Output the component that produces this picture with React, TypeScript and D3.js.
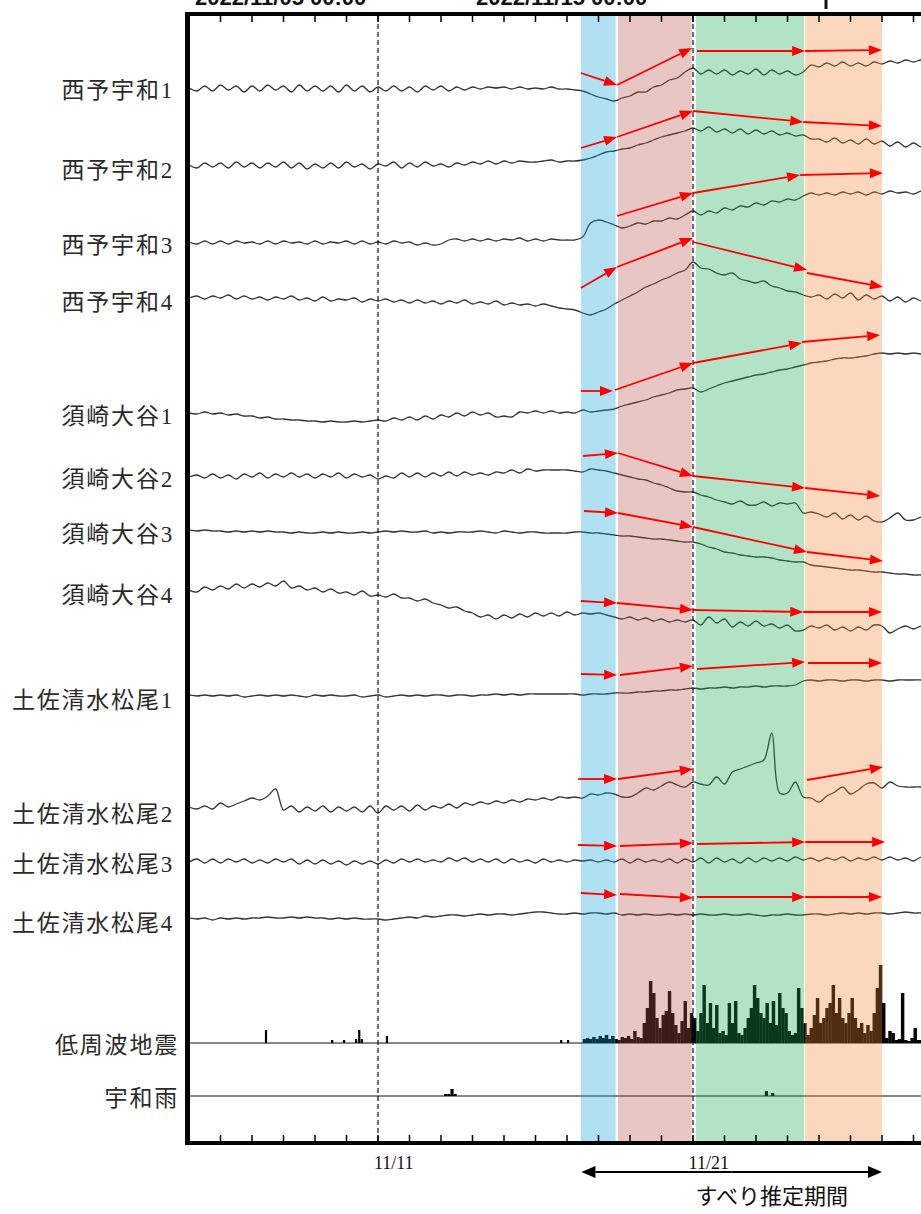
import React from 'react';
import * as d3 from 'd3';

// ---------- DATA ----------
const START = Date.UTC(2022, 10, 5); // 2022-11-05 00:00
const DAY_MS = 86400000;
const SAMPLE_STEP = 0.25; // days between samples of the tilt traces

const stationLabels = [
  '西予宇和1', '西予宇和2', '西予宇和3', '西予宇和4',
  '須崎大谷1', '須崎大谷2', '須崎大谷3', '須崎大谷4',
  '土佐清水松尾1', '土佐清水松尾2', '土佐清水松尾3', '土佐清水松尾4',
];

const nishiyowa1 = [0,-3,2,-3, 3,-2,2,-4, 2,-3,3,-2, 2,-4,3,-3, 2,-3,2,-4, 3,-3,2,-4, 1,-3,2,-3, 1,-4,2,-2, 2,-3,1,-2, 1,-1,1,0, 1,-1,1,-1, 0,-1,1,-1, -1,-2,-3,-6, -9,-11,-13,-10, -8,-4,-4,1, 3,8,10,16, 20,14,18,14, 18,13,17,14, 19,13,18,14, 17,13,16,23, 21,25,22,26, 22,25,22,26, 24,27,25,28, 26,28,26];
const nishiyowa2 = [3,0,5,1, 5,0,6,1, 5,0,5,1, 6,0,5,-1, 4,0,5,0, 6,1,4,-1, 4,2,6,0, 5,1,6,2, 4,1,5,3, 6,4,7,4, 7,5,7,6, 6,7,8,6, 7,7,8,10, 13,16,17,19, 20,23,25,28, 31,33,35,37, 40,37,41,36, 39,35,39,34, 38,34,37,33, 35,32,33,29, 29,26,30,25, 28,24,29,24, 27,22,26,21, 25,21,24];
const nishiyowa3 = [0,-2,1,-2, 1,-2,1,-1, 0,-2,1,-2, 1,-1,0,-2, 1,-2,0,-1, 1,-2,1,-2, 0,-2,1,-1, 0,-3,-1,-3, -2,2,3,1, 3,1,3,1, 3,2,4,1, 3,1,3,2, 2,2,5,19, 22,20,17,14, 16,19,18,21, 21,24,23,27, 31,27,31,29, 34,32,36,35, 39,37,41,40, 43,42,46,49, 47,49,47,50, 48,50,47,50, 48,51,49,50, 48,51,49];
const nishiyowa4 = [0,2,-1,2, 0,3,-1,2, -1,1,-2,1, -1,2,-2,0, -3,1,-3,-1, -2,0,-4,-1, -3,-1,-4,-2, -5,-2,-5,-3, -6,-3,-5,-2, -6,-4,-6,-3, -7,-5,-7,-6, -8,-6,-8,-10, -11,-12,-15,-17, -14,-11,-6,-2, 2,6,11,14, 18,21,25,28, 36,30,29,25, 23,25,19,17, 15,17,12,10, 7,6,3,1, 3,-1,4,0, 5,-2,3,-1, 2,-3,1,-4, 0,-3,-1];
const susakiOtani1 = [1,0,2,0, 1,-1,0,-2, -2,-4,-3,-5, -5,-6,-6,-7, -7,-8,-7,-8, -8,-7,-8,-7, -6,-7,-4,-6, -3,-6,-2,-5, -1,-3,1,-2, 2,-1,1,-3, -2,-3,2,1, 3,1,3,1, 2,1,4,2, 3,4,5,8, 10,12,14,17, 19,21,24,25, 26,22,25,28, 31,33,35,37, 39,40,42,44, 45,47,49,51, 52,53,55,56, 56,57,58,60, 61,60,61,60, 61,60,61];
const susakiOtani2 = [0,2,-1,3, -1,2,-2,3, 0,4,-1,3, 0,4,0,3, -1,3,0,4, -1,3,0,2, -2,1,-1,4, 0,4,0,4, 1,5,1,5, 2,4,2,5, 4,7,4,8, 6,7,7,7, 7,6,5,8, 7,6,4,2, 0,-2,-3,-6, -8,-11,-14,-15, -15,-18,-20,-23, -25,-27,-24,-28, -28,-25,-29,-26, -27,-26,-36,-35, -37,-40,-36,-42, -38,-43,-39,-44, -45,-41,-36,-43, -43,-40,-40];
const susakiOtani3 = [1,0,1,0, 0,-1,0,-1, 0,-1,0,-1, -1,-2,-1,-2, -2,-1,-2,-1, -2,-2,-1,-2, -1,0,-1,0, -1,-1,0,-2, -1,-2,-1,-1, -1,0,-1,-2, 0,-1,-2,-1, -1,-2,-2,-2, -2,-1,-1,-2, -2,-3,-4,-5, -5,-6,-7,-8, -8,-9,-10,-11, -11,-13,-16,-18, -21,-22,-24,-25, -26,-26,-27,-29, -30,-31,-31,-34, -35,-36,-37,-38, -39,-39,-40,-41, -41,-42,-43,-43, -44,-44,-45];
const susakiOtani4 = [3,1,6,3, 7,4,9,5, 9,6,10,7, 12,5,7,3, 5,1,4,0, 1,-2,2,-3, -2,-4,-1,-5, -5,-8,-6,-10, -12,-15,-14,-18, -20,-24,-22,-26, -22,-25,-21,-24, -20,-23,-20,-23, -19,-22,-20,-21, -20,-22,-24,-26, -24,-27,-25,-28, -26,-29,-27,-29, -27,-32,-24,-30, -26,-34,-29,-33, -28,-33,-31,-35, -32,-38,-37,-33, -35,-32,-37,-34, -38,-34,-37,-32, -33,-40,-36,-33, -36,-33,-35];
const tosashimizu1 = [3,2,3,2, 3,2,3,1, 2,3,2,3, 2,3,2,1, 3,2,3,2, 2,3,1,2, 3,1,2,3, 2,3,2,3, 3,2,3,3, 2,3,3,4, 3,4,3,4, 4,4,4,4, 4,4,3,4, 4,4,5,5, 5,6,6,7, 7,8,8,9, 10,9,10,10, 11,10,11,11, 12,11,12,12, 12,13,17,18, 17,18,18,17, 18,18,17,18, 18,17,18,18, 18,18,17];
const tosashimizu2 = [5,3,6,3, 9,5,8,11, 14,12,16,23, 2,6,0,5, 1,6,0,5, 1,5,0,6, -1,6,2,6, 1,7,2,6, 4,8,4,9, 7,10,8,11, 9,12,10,13, 12,14,12,15, 14,15,14,18, 17,19,18,15, 15,19,24,22, 26,30,27,25, 30,28,27,35, 28,40,43,46, 49,52,79,19, 19,30,15,14, 10,16,20,25, 18,22,28,29, 24,30,26,25, 25,25,24];
const tosashimizu3 = [0,3,-1,3, -1,3,0,3, -1,2,-1,3, 0,3,-2,2, -2,2,-2,1, -3,1,-2,1, -2,2,-1,3, 0,3,0,2, 0,4,1,4, 0,3,0,3, -1,3,0,2, -1,3,0,2, 0,2,1,2, 0,2,0,3, -1,3,0,2, 0,3,-1,3, 0,4,-1,4, 0,3,-1,4, 0,4,1,4, 1,5,2,4, 1,4,2,5, 1,4,2,5, 2,5,2,4, 1,5,2];
const tosashimizu4 = [3,2,3,1, 3,2,3,2, 3,3,4,3, 3,4,3,4, 3,3,2,3, 2,3,2,2, 2,1,2,3, 4,3,5,4, 5,6,6,5, 6,7,6,7, 7,6,7,8, 9,9,8,7, 7,8,7,8, 8,7,8,6, 7,6,7,6, 6,7,6,7, 6,7,6,6, 7,6,6,7, 6,5,6,6, 7,6,6,7, 7,6,7,8, 7,8,7,8, 8,7,8,9, 8,8,7];

const traces = [
  nishiyowa1, nishiyowa2, nishiyowa3, nishiyowa4,
  susakiOtani1, susakiOtani2, susakiOtani3, susakiOtani4,
  tosashimizu1, tosashimizu2, tosashimizu3, tosashimizu4,
];

// red estimated-trend arrows per station: [startDay, startValue, endDay, endValue]
const slipArrows: number[][][] = [
  [[12.44, 15, 13.59, 3], [13.59, 3, 15.97, 40], [16.13, 37, 19.56, 37], [19.56, 37, 22.0, 38]],
  [[12.44, 20, 13.59, 31], [13.59, 31, 16.0, 57], [16.0, 57, 19.5, 46], [19.5, 46, 22.0, 42]],
  [[13.59, 26, 16.0, 49], [16.0, 49, 19.4, 67], [19.4, 67, 22.03, 69]],
  [[12.44, 10, 13.59, 31], [13.59, 31, 16.0, 60], [16.0, 56, 19.62, 28], [19.62, 25, 22.03, 11]],
  [[12.44, 23, 13.46, 23], [13.52, 24, 16.0, 51], [16.0, 51, 19.46, 71], [19.46, 72, 21.94, 79]],
  [[12.51, 21, 13.62, 24], [13.62, 24, 16.0, 1], [16.0, 1, 19.56, -11], [19.56, -11, 21.94, -19]],
  [[12.54, 20, 13.62, 18], [13.62, 18, 16.0, 4], [16.0, 4, 19.62, -21], [19.62, -21, 22.03, -30]],
  [[12.44, -8, 13.59, -10], [13.59, -10, 16.0, -17], [16.0, -17, 19.5, -19], [19.5, -19, 22.0, -19]],
  [[12.44, 24, 13.59, 23], [13.68, 23, 16.0, 32], [16.13, 29, 19.56, 36], [19.65, 35, 22.0, 35]],
  [[12.35, 33, 13.59, 33], [13.62, 33, 16.0, 43], [19.62, 32, 22.03, 45]],
  [[12.35, 17, 13.59, 16], [13.68, 16, 16.0, 19], [16.13, 18, 19.56, 20], [19.56, 20, 22.1, 20]],
  [[12.44, 28, 13.59, 26], [13.68, 27, 16.0, 23], [16.13, 24, 19.56, 24], [19.56, 24, 22.0, 24]],
];

// low-frequency earthquakes: isolated events [day, count]
const lfeLabel = '低周波地震';
const lfeSparse = [[2.41, 13], [4.51, 3], [4.89, 3], [5.27, 4], [5.37, 13], [5.45, 4], [6.25, 7], [11.78, 3], [12.0, 3]];
const lfeBinStartDay = 12.4;
const lfeBinDays = 0.1;
const lfeCounts = [0,4,5,4,6,4,7,5,8,4, 7,4,3,6,5,7,4,12,6,5, 20,35,62,50,25,15,28,32,52,30, 18,10,22,42,15,30,25,12,30,58, 20,40,15,38,10,12,8,40,20,42, 10,8,15,25,35,58,45,30,25,40, 20,42,18,50,35,30,12,8,10,55, 35,20,8,15,28,45,20,25,35,40, 58,30,45,25,20,30,45,25,15,20, 10,18,12,30,55,78,40,5,12,10, 3,4,50,3,2,5,15,3,3,0];

// rainfall at Uwa: [day, mm]
const rainLabel = '宇和雨';
const rainBins = [[8.1, 2], [8.2, 2], [8.3, 7], [8.4, 2], [18.28, 5], [18.48, 3]];

const axisTickLabels = ['11/11', '11/21'];
const axisTickDays = [6, 16];

const periods = [
  { start: '2022-11-17T10:40:00Z', end: '2022-11-18T13:05:00Z', color: '#10a4dc' },
  { start: '2022-11-18T14:50:00Z', end: '2022-11-20T23:00:00Z', color: '#b9524c' },
  { start: '2022-11-21T02:15:00Z', end: '2022-11-24T12:35:00Z', color: '#18aa52' },
  { start: '2022-11-24T13:20:00Z', end: '2022-11-27T00:00:00Z', color: '#f28837' },
];
const slipPeriod = { start: '2022-11-17T11:00:00Z', end: '2022-11-27T00:00:00Z', label: 'すべり推定期間' };
const headerTexts = ['2022/11/05 00:00', '2022/11/15 00:00'];

// ---------- LAYOUT ----------
const W = 921;
const H = 1214;
const TOP = 16;
const BOTTOM = 1141;
const LEFT = 189;
const rowBase = [88, 168, 242, 298, 414, 477, 531, 593, 698, 812, 862, 921];
const labelY = [90, 170, 245, 302, 416, 479, 534, 595, 700, 814, 864, 923];
const LFE_BASE = 1043;
const RAIN_BASE = 1096;

const labelFont = "'Liberation Serif', 'Noto Sans CJK JP', serif";

function Arrow({ x1, y1, x2, y2, color, len = 13, hw = 5, w = 1.8 }: any) {
  const dx = x2 - x1, dy = y2 - y1;
  const L = Math.hypot(dx, dy) || 1;
  const ux = dx / L, uy = dy / L;
  const bx = x2 - ux * len, by = y2 - uy * len;
  const px = -uy, py = ux;
  return (
    <g>
      <line x1={x1} y1={y1} x2={bx} y2={by} stroke={color} strokeWidth={w} />
      <polygon points={`${x2},${y2} ${bx + px * hw},${by + py * hw} ${bx - px * hw},${by - py * hw}`} fill={color} />
    </g>
  );
}

export default function App() {
  const x = d3.scaleUtc()
    .domain([new Date(START), new Date(START + 16 * DAY_MS)])
    .range([LEFT, 693]);
  const xd = (d: number) => x(new Date(START + d * DAY_MS));
  const rowScale = (i: number) => d3.scaleLinear().domain([0, 10]).range([rowBase[i], rowBase[i] - 10]);
  const lfeY = d3.scaleLinear().domain([0, 100]).range([LFE_BASE, LFE_BASE - 100]);
  const rainY = d3.scaleLinear().domain([0, 10]).range([RAIN_BASE, RAIN_BASE - 10]);

  const tickDays = d3.range(0, 25);

  const paths = traces.map((vals, i) => {
    const y = rowScale(i);
    const line = d3.line<number>()
      .x((_, k) => xd(k * SAMPLE_STEP))
      .y((v) => y(v))
      .curve(d3.curveCatmullRom);
    return line(vals) || '';
  });

  return (
    <svg width={W} height={H} viewBox={`0 0 ${W} ${H}`}
      style={{ position: 'absolute', left: 0, top: 0, background: '#fff' }}>
      <defs>
        <clipPath id="plotClip">
          <rect x={LEFT + 1} y={TOP} width={W - LEFT} height={BOTTOM - TOP} />
        </clipPath>
      </defs>
      <rect x={0} y={0} width={W} height={H} fill="#fff" />

      {/* header (cut off at top edge, as in the source figure) */}
      {headerTexts.map((t, i) => (
        <text key={t} x={i === 0 ? 195 : 476} y={5} fontSize={22} fontWeight="bold"
          fontFamily="'Liberation Sans', Arial, sans-serif" fill="#111">{t}</text>
      ))}
      <line x1={826} y1={0} x2={826} y2={9} stroke="#111" strokeWidth={3} />

      <g clipPath="url(#plotClip)">
        {/* tilt traces */}
        {paths.map((p, i) => (
          <path key={i} d={p} fill="none" stroke="#353535" strokeWidth={1.3} strokeLinejoin="round" />
        ))}

        {/* LFE histogram */}
        <line x1={LEFT} x2={W} y1={LFE_BASE} y2={LFE_BASE} stroke="#111" strokeWidth={1.2} />
        {lfeSparse.map(([d, c], i) => (
          <rect key={'s' + i} x={xd(d)} y={lfeY(c)} width={xd(d + 0.07) - xd(d)}
            height={LFE_BASE - lfeY(c)} fill="#000" />
        ))}
        {lfeCounts.map((c, i) => {
          const d = lfeBinStartDay + i * lfeBinDays;
          return c > 0 ? (
            <rect key={'b' + i} x={xd(d)} y={lfeY(c)} width={xd(d + lfeBinDays) - xd(d) + 0.3}
              height={LFE_BASE - lfeY(c)} fill="#000" />
          ) : null;
        })}

        {/* rain */}
        <line x1={LEFT} x2={W} y1={RAIN_BASE} y2={RAIN_BASE} stroke="#111" strokeWidth={1.2} />
        {rainBins.map(([d, v], i) => (
          <rect key={'r' + i} x={xd(d)} y={rainY(v)} width={xd(d + 0.1) - xd(d)}
            height={RAIN_BASE - rainY(v)} fill="#000" />
        ))}

        {/* dashed date lines */}
        {axisTickDays.map((d) => (
          <line key={'dl' + d} x1={xd(d)} x2={xd(d)} y1={TOP} y2={BOTTOM}
            stroke="#111" strokeWidth={1.2} strokeDasharray="5,3" />
        ))}

        {/* period bands */}
        {periods.map((p, i) => {
          const x0 = x(new Date(p.start));
          const x1 = x(new Date(p.end));
          return <rect key={'p' + i} x={x0} y={TOP} width={x1 - x0} height={BOTTOM - TOP}
            fill={p.color} fillOpacity={0.33} />;
        })}

        {/* red arrows */}
        {slipArrows.map((segs, i) => {
          const y = rowScale(i);
          return segs.map((s, j) => (
            <Arrow key={i + '-' + j} x1={xd(s[0])} y1={y(s[1])} x2={xd(s[2])} y2={y(s[3])} color="#ff0000" />
          ));
        })}
      </g>

      {/* frame */}
      <rect x={185} y={12} width={5} height={BOTTOM - 12 + 4} fill="#000" />
      <rect x={185} y={12} width={W - 185} height={4} fill="#000" />
      <rect x={185} y={BOTTOM} width={W - 185} height={4} fill="#000" />
      {tickDays.map((d) => (
        <g key={'t' + d}>
          <line x1={xd(d)} x2={xd(d)} y1={TOP} y2={TOP + 6} stroke="#000" strokeWidth={1.5} />
          <line x1={xd(d)} x2={xd(d)} y1={BOTTOM} y2={BOTTOM - 6} stroke="#000" strokeWidth={1.5} />
        </g>
      ))}

      {/* station labels */}
      {stationLabels.map((s, i) => (
        <text key={s} x={174} y={labelY[i]} dy="0.36em" textAnchor="end" fontSize={23}
          letterSpacing={1.8} fontFamily={labelFont} fill="#2a2a2a">{s}</text>
      ))}
      <text x={179} y={LFE_BASE + 2} dy="0.36em" textAnchor="end" fontSize={23} letterSpacing={1.8}
        fontFamily={labelFont} fill="#2a2a2a">{lfeLabel}</text>
      <text x={179} y={RAIN_BASE + 2} dy="0.36em" textAnchor="end" fontSize={23} letterSpacing={1.8}
        fontFamily={labelFont} fill="#2a2a2a">{rainLabel}</text>

      {/* bottom axis labels (centred at noon) */}
      {axisTickLabels.map((t, i) => (
        <text key={t} x={xd(axisTickDays[i] + 0.5)} y={1169} textAnchor="middle" fontSize={18}
          fontFamily="'Liberation Serif', serif" fill="#111">{t}</text>
      ))}

      {/* estimated slip period */}
      {(() => {
        const a = x(new Date(slipPeriod.start));
        const b = x(new Date(slipPeriod.end));
        const y = 1172;
        return (
          <g>
            <Arrow x1={(a + b) / 2} y1={y} x2={b} y2={y} color="#000" len={14} hw={6} w={2} />
            <Arrow x1={(a + b) / 2} y1={y} x2={a} y2={y} color="#000" len={14} hw={6} w={2} />
            <text x={(a + b) / 2 + 40} y={1204} textAnchor="middle" fontSize={22}
              fontFamily="'Noto Sans CJK JP', sans-serif" fill="#111">{slipPeriod.label}</text>
          </g>
        );
      })()}
    </svg>
  );
}
